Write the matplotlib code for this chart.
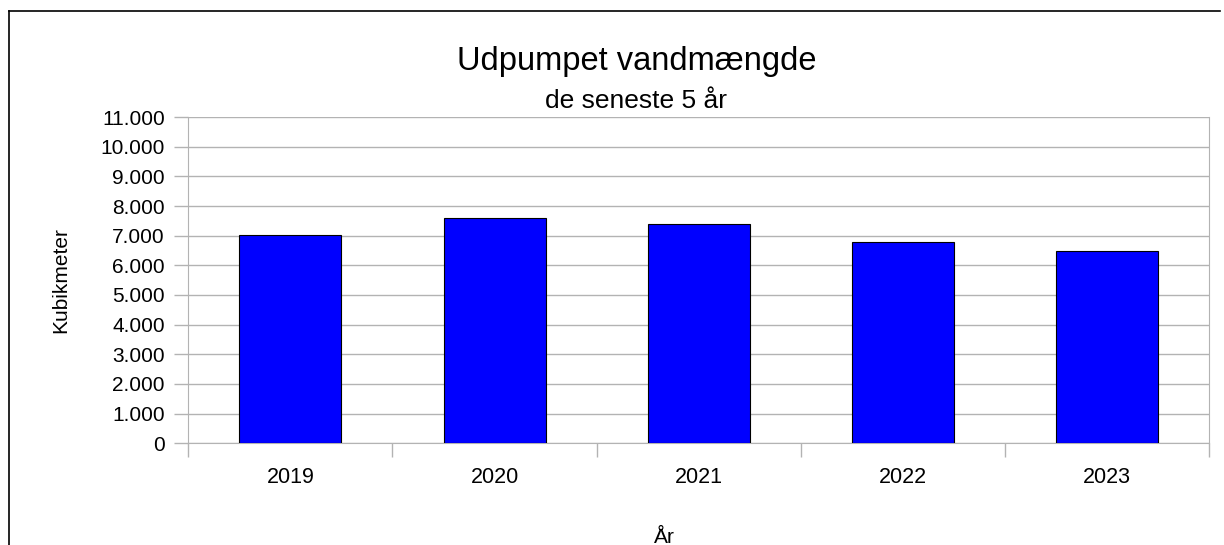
import matplotlib.pyplot as plt
from matplotlib.lines import Line2D
from matplotlib.ticker import FuncFormatter, MultipleLocator

# Data
years = ["2019", "2020", "2021", "2022", "2023"]
volumes = [7030, 7600, 7380, 6800, 6480]
y_max = 11000


def thousands(value, pos):
    """
    Format a number with a dot as thousands separator (Danish style).
    """
    return f"{int(value):,}".replace(",", ".")


def main():
    plt.rcParams['font.family'] = ['Liberation Sans', 'DejaVu Sans']

    fig = plt.figure(figsize=(12.24, 5.45), dpi=100)
    ax = fig.add_axes([0.1538, 0.1866, 0.8342, 0.5987])

    positions = range(len(years))
    ax.bar(positions, volumes, width=0.5, color='#0000ff',
           edgecolor='black', linewidth=0.8, zorder=3)

    # Axis limits and ticks
    ax.set_xlim(-0.5, len(years) - 0.5)
    ax.set_ylim(0, y_max)
    ax.set_xticks(list(positions))
    ax.set_xticklabels(years)
    ax.set_xticks([i - 0.5 for i in range(len(years) + 1)], minor=True)
    ax.yaxis.set_major_locator(MultipleLocator(1000))
    ax.yaxis.set_major_formatter(FuncFormatter(thousands))

    ax.tick_params(axis='x', which='major', length=0, pad=17,
                   labelsize=15.5)
    ax.tick_params(axis='x', which='minor', length=10, color='#b3b3b3',
                   width=1)
    ax.tick_params(axis='y', length=10, color='#b3b3b3', width=1,
                   pad=7, labelsize=15)

    ax.grid(axis='y', color='#b3b3b3', linewidth=1, zorder=0)
    for side in ['left', 'right', 'bottom']:
        ax.spines[side].set_color('#b3b3b3')
    ax.spines['top'].set_visible(False)

    # Titles and axis labels
    fig.text(0.52, 0.887, "Udpumpet vandmængde", ha='center',
             va='center', fontsize=23.5)
    fig.text(0.52, 0.814, "de seneste 5 år", ha='center',
             va='center', fontsize=19)
    fig.text(0.05, 0.486, "Kubikmeter", rotation=90, ha='center',
             va='center', fontsize=15)
    fig.text(0.5425, 0.014, "År", ha='center', va='center', fontsize=15)

    # Outer chart frame (cut off at the right and bottom in the original)
    fig.add_artist(Line2D([9 / 1224, 9 / 1224], [0, 1 - 11 / 545],
                          color='black', linewidth=1.2))
    fig.add_artist(Line2D([9 / 1224, 1220 / 1224],
                          [1 - 11 / 545, 1 - 11 / 545],
                          color='black', linewidth=1.2))

    fig.savefig('out.png', dpi=100)


if __name__ == "__main__":
    main()
